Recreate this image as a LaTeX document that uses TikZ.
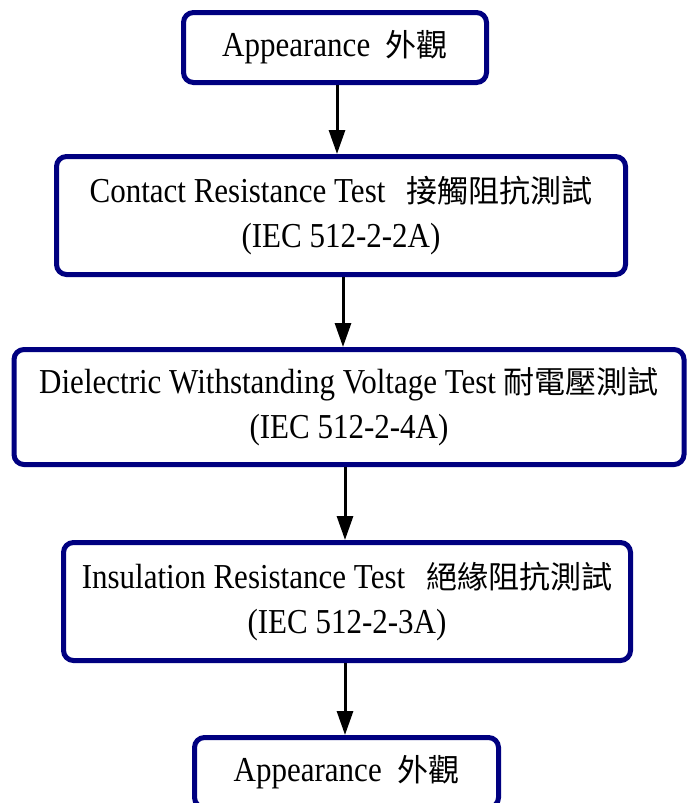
\documentclass[tikz,border=0pt]{standalone}
\usepackage{fontspec}
\setmainfont[FakeStretch=0.886]{Liberation Serif}
\newfontfamily\cjk[Scale=0.886]{Noto Sans CJK TC}
\usetikzlibrary{arrows.meta}
\definecolor{navyline}{RGB}{0,0,128}
\begin{document}
\begin{tikzpicture}[x=1pt, y=-1pt,
        stage/.style={rectangle, rounded corners=10pt, draw=navyline, line width=5pt, fill=white, align=center, font=\fontsize{35}{45}\selectfont},
        flow/.style={line width=3pt, -{Triangle[length=24pt, width=16pt]}}
    ]
        \useasboundingbox (0,0) rectangle (686,803);

        \node[stage, minimum width=303pt, minimum height=70pt] (app1) at (335,47.5) {Appearance\ \ {\cjk 外觀}};

        \node[stage, minimum width=569pt, minimum height=118pt] (crt) at (341,215.5) {Contact Resistance Test\hspace{0.6em}{\cjk 接觸阻抗測試}\\
        (IEC 512-2-2A)};

        \node[stage, minimum width=670pt, minimum height=115pt] (dwv) at (349,407) {Dielectric Withstanding Voltage Test {\cjk 耐電壓測試}\\
        (IEC 512-2-4A)};

        \node[stage, minimum width=567pt, minimum height=118pt] (ir) at (347,601.5) {Insulation Resistance Test\hspace{0.6em}{\cjk 絕緣阻抗測試}\\
        (IEC 512-2-3A)};

        \node[stage, minimum width=304pt, minimum height=70pt] (app2) at (346.5,772.5) {Appearance\ \ {\cjk 外觀}};

        \draw[flow] ([xshift=2pt]app1.south) -- ([xshift=2pt]app1.south |- crt.north);
        \draw[flow] ([xshift=2pt]crt.south) -- ([xshift=2pt]crt.south |- dwv.north);
        \draw[flow] ([xshift=-2pt]ir.north |- dwv.south) -- ([xshift=-2pt]ir.north);
        \draw[flow] ([xshift=-2pt]ir.south) -- ([xshift=-2pt]ir.south |- app2.north);
    \end{tikzpicture}
\end{document}
